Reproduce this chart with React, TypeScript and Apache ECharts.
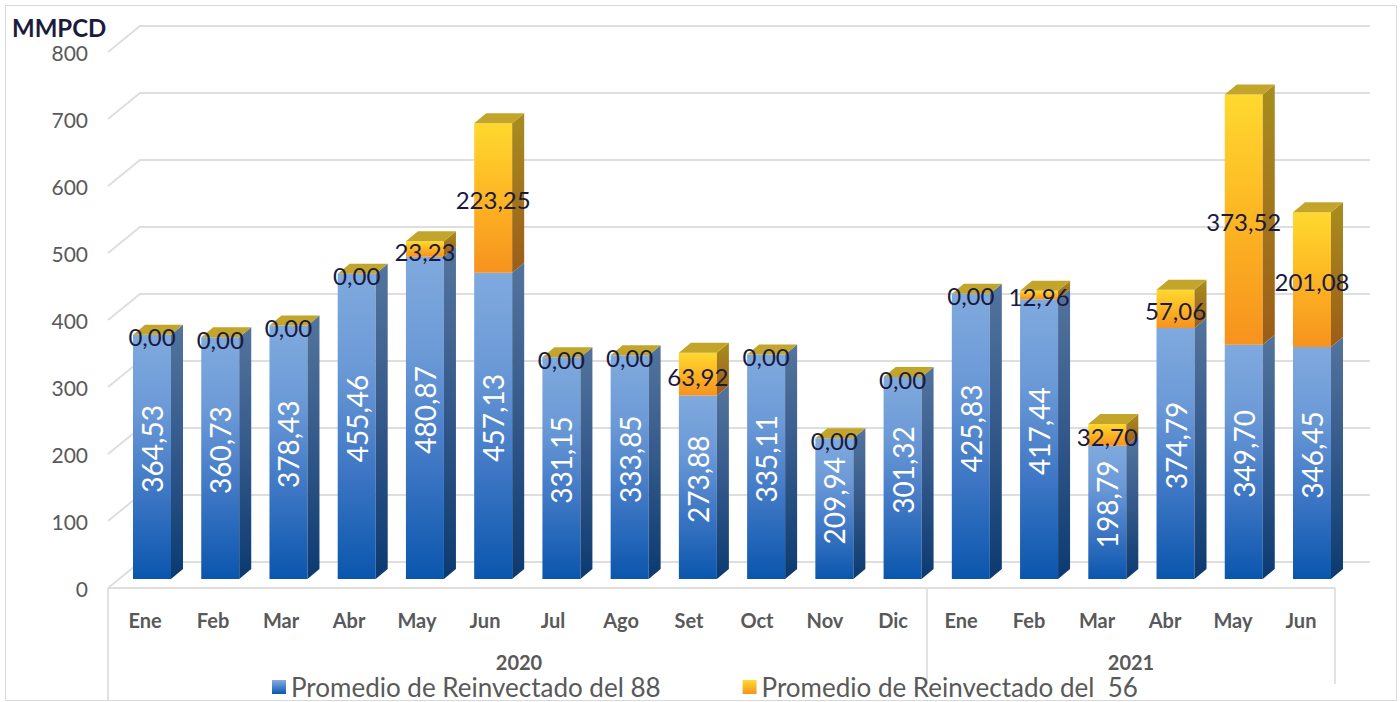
import React, { useEffect, useRef } from "react";
import * as echarts from "echarts";

const months = ["Ene", "Feb", "Mar", "Abr", "May", "Jun", "Jul", "Ago", "Set", "Oct", "Nov", "Dic", "Ene", "Feb", "Mar", "Abr", "May", "Jun"];
const years = ["2020", "2021"];
const yearCounts = [12, 6];
const reinv88 = [364.53, 360.73, 378.43, 455.46, 480.87, 457.13, 331.15, 333.85, 273.88, 335.11, 209.94, 301.32, 425.83, 417.44, 198.79, 374.79, 349.70, 346.45];
const reinv56 = [0, 0, 0, 0, 23.23, 223.25, 0, 0, 63.92, 0, 0, 0, 0, 12.96, 32.70, 57.06, 373.52, 201.08];
const yTicks = [0, 100, 200, 300, 400, 500, 600, 700, 800];
const name88 = "Promedio de Reinvectado del 88";
const name56 = "Promedio de Reinvectado del  56";

const FONT = "Lato, 'Open Sans', sans-serif";
const G_LEFT = 111;
const G_TOP = 52;
const G_W = 1224;
const G_H = 536;

const fmt = (v: number) => v.toFixed(2).replace(".", ",");

const lg = (stops: [number, string][]) =>
  new echarts.graphic.LinearGradient(0, 0, 0, 1, stops.map(([offset, color]) => ({ offset, color })));

export default function App() {
  const ref = useRef<HTMLDivElement>(null);
  useEffect(() => {
    if (!ref.current) return;
    const chart = echarts.init(ref.current, undefined, { renderer: "svg" });
    const n = months.length;
    const FW = 38, DX = 12, DY = 10, LIFT = 9;
    const data = months.map((_, i) => [i, reinv88[i], reinv56[i]]);

    const geom = (api: any) => {
      const i = api.value(0);
      const b = api.value(1);
      const yv = api.value(2);
      const base = api.coord([i, 0]);
      const off = 7 + (4 * i) / (n - 1);
      const xc = base[0] + off;
      const y0 = base[1] - LIFT;
      const yB = api.coord([i, b])[1] - LIFT;
      const yT = api.coord([i, b + yv])[1] - LIFT;
      return { i, b, yv, xc, xl: xc - FW / 2, xr: xc + FW / 2, y0, yB, yT };
    };

    const bandW = G_W / n;
    const sepXs: number[] = [G_LEFT - 3];
    let acc = 0;
    const yearGraphics: any[] = [];
    yearCounts.forEach((c, k) => {
      const cx = G_LEFT + (acc + c / 2) * bandW;
      yearGraphics.push({
        type: "text",
        x: cx,
        y: 662,
        style: { text: years[k], fill: "#595959", font: `bold 20px ${FONT}`, align: "center", verticalAlign: "middle" },
      });
      acc += c;
      sepXs.push(G_LEFT + acc * bandW);
    });
    const sepGraphics = sepXs.map((x, k) => ({
      type: "line",
      shape: { x1: x, y1: G_TOP + G_H, x2: x, y2: k === 0 ? 700 : 684 },
      style: { stroke: "#d9d9d9", lineWidth: 1.5 },
    }));

    chart.setOption({
      animation: false,
      backgroundColor: "#ffffff",
      grid: { left: G_LEFT, top: G_TOP, width: G_W, height: G_H },
      xAxis: {
        type: "category",
        data: months,
        axisLine: { show: false },
        axisTick: { show: false },
        axisLabel: { color: "#595959", fontSize: 20, fontWeight: "bold", fontFamily: FONT, margin: 22, lineHeight: 20, interval: 0 },
      },
      yAxis: {
        type: "value",
        min: 0,
        max: 800,
        interval: 100,
        axisLine: { show: false },
        axisTick: { show: false },
        splitLine: { show: false },
        axisLabel: { color: "#595959", fontSize: 21, fontFamily: FONT, margin: 23 },
      },
      legend: {
        data: [name88, name56],
        left: 272,
        top: 674,
        padding: 0,
        icon: "rect",
        itemWidth: 14,
        itemHeight: 14,
        itemGap: 82,
        textStyle: { color: "#595959", fontSize: 26, fontFamily: FONT, lineHeight: 24 },
      },
      graphic: [
        {
          type: "rect",
          shape: { x: 5.5, y: 5.5, width: 1391, height: 695 },
          style: { fill: "none", stroke: "#d9d9d9", lineWidth: 1 },
          silent: true,
        },
        {
          type: "text",
          x: 12,
          y: 27,
          style: { text: "MMPCD", fill: "#1b1b3d", font: `bold 24px ${FONT}`, align: "left", verticalAlign: "middle" },
        },
        ...sepGraphics,
        ...yearGraphics,
      ],
      series: [
        {
          type: "bar",
          name: name88,
          data: [],
          itemStyle: { color: lg([[0, "#86ade0"], [1, "#0a56ad"]]) },
        },
        {
          type: "bar",
          name: name56,
          data: [],
          itemStyle: { color: lg([[0, "#ffdb33"], [1, "#f7921e"]]) },
        },
        {
          type: "custom",
          z: 1,
          silent: true,
          data: yTicks.map((v) => [0, v]),
          encode: { x: 0, y: 1 },
          renderItem: (params: any, api: any) => {
            const cs = params.coordSys;
            const v = api.value(1);
            const y = api.coord([0, v])[1];
            const x0 = cs.x - 3;
            const children: any[] = [
              {
                type: "polyline",
                shape: { points: [[x0, y], [x0 + 32, y - 26], [cs.x + cs.width + 35, y - 26]] },
                style: { stroke: "#dedede", lineWidth: 2, fill: "none" },
              },
            ];
            if (v === 0) {
              children.push({
                type: "line",
                shape: { x1: x0, y1: y, x2: cs.x + cs.width, y2: y },
                style: { stroke: "#dedede", lineWidth: 2 },
              });
            }
            return { type: "group", children };
          },
        },
        {
          type: "custom",
          z: 2,
          silent: true,
          data,
          encode: { x: 0, y: [1, 2] },
          renderItem: (_params: any, api: any) => {
            const g = geom(api);
            const { xl, xr, y0, yB, yT } = g;
            const children: any[] = [
              {
                type: "rect",
                shape: { x: xl, y: yB, width: FW, height: y0 - yB },
                style: { fill: lg([[0, "#80aade"], [0.3, "#6c9ad7"], [0.65, "#3d76c4"], [1, "#0a56ad"]]) },
              },
              {
                type: "polygon",
                shape: { points: [[xr, yB], [xr + DX, yB - DY], [xr + DX, y0 - DY], [xr, y0]] },
                style: { fill: lg([[0, "#53749d"], [0.5, "#33588a"], [1, "#0b3a70"]]) },
              },
            ];
            if (yB - yT > 0.5) {
              children.push(
                {
                  type: "rect",
                  shape: { x: xl, y: yT, width: FW, height: yB - yT },
                  style: { fill: lg([[0, "#ffd92f"], [0.45, "#fdb924"], [1, "#f7921e"]]) },
                },
                {
                  type: "polygon",
                  shape: { points: [[xr, yT], [xr + DX, yT - DY], [xr + DX, yB - DY], [xr, yB]] },
                  style: { fill: lg([[0, "#a88d1f"], [1, "#9c5d18"]]) },
                }
              );
            }
            children.push({
              type: "polygon",
              shape: { points: [[xl, yT], [xl + DX, yT - DY], [xr + DX, yT - DY], [xr, yT]] },
              style: { fill: "#c3a52b" },
            });
            return { type: "group", children };
          },
        },
        {
          type: "custom",
          z: 3,
          silent: true,
          data,
          encode: { x: 0, y: [1, 2] },
          renderItem: (_params: any, api: any) => {
            const g = geom(api);
            return {
              type: "group",
              children: [
                {
                  type: "text",
                  x: g.xc,
                  y: (g.y0 + g.yB) / 2 - 8,
                  rotation: Math.PI / 2,
                  style: { text: fmt(g.b), fill: "#ffffff", font: `28px ${FONT}`, align: "center", verticalAlign: "middle" },
                },
                {
                  type: "text",
                  x: g.xc,
                  y: (g.yB + g.yT) / 2 + 2,
                  style: { text: fmt(g.yv), fill: "#1a1a40", font: `24px ${FONT}`, align: "center", verticalAlign: "middle" },
                },
              ],
            };
          },
        },
      ],
    });
    return () => chart.dispose();
  }, []);
  return (
    <div
      ref={ref}
      style={{ position: "fixed", left: 0, top: 0, width: 1400, height: 702, background: "#fff" }}
    />
  );
}
